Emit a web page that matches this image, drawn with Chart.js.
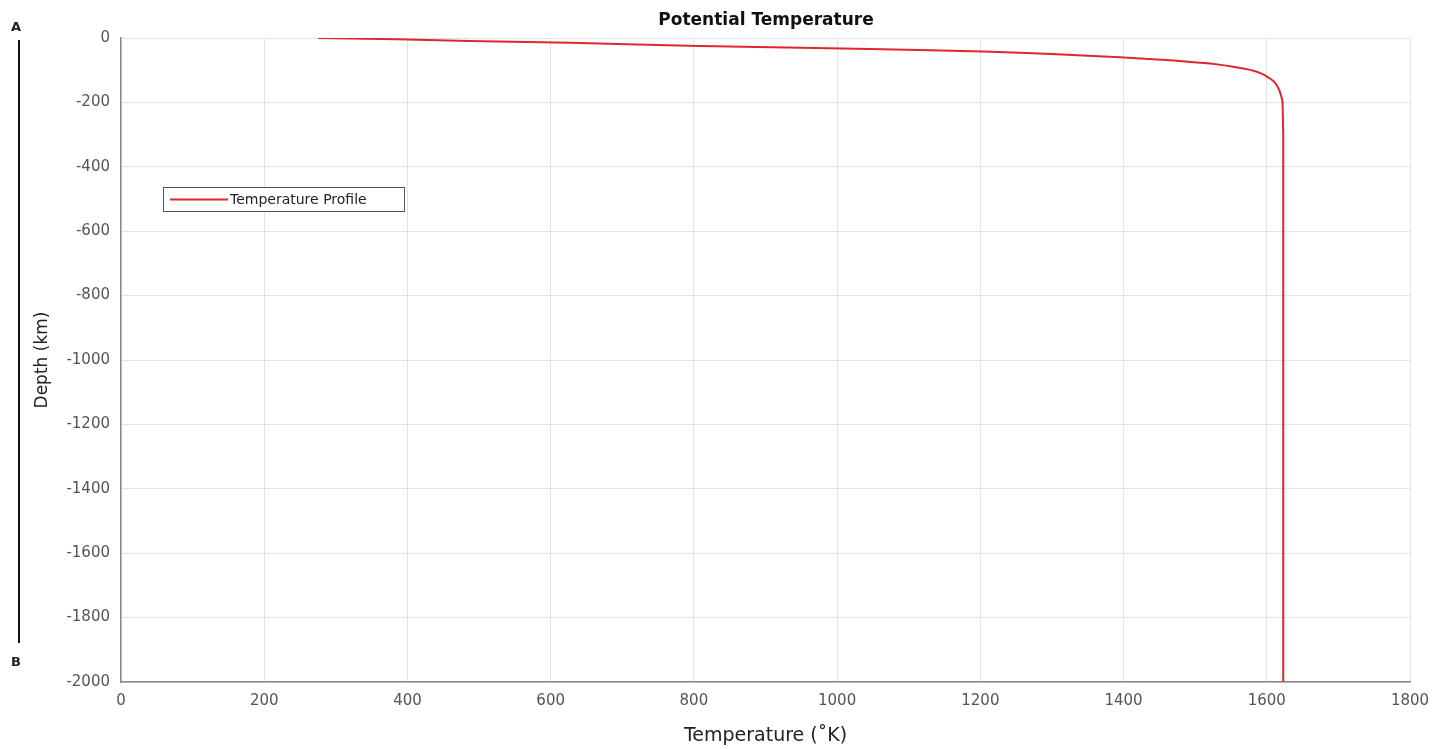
<!DOCTYPE html>
<html>
<head>
<meta charset="utf-8">
<script src="https://cdn.jsdelivr.net/npm/chart.js@4"></script>
<style>
  html, body { margin: 0; padding: 0; background: #fff; }
  #wrap { width: 1450px; height: 749px; position: relative; }
</style>
</head>
<body>
<div id="wrap"><canvas id="tempChart" width="1450" height="749"></canvas></div>
<script>
// profile
const depthKm = [0, -4, -9, -15, -20, -25, -30, -34, -38, -42, -46, -50, -55, -60, -65, -70, -75, -79, -85, -90, -95, -99, -105, -110, -115, -120, -128, -135, -145, -155, -165, -175, -187, -199, -300, -600, -1000, -1500, -2000];
const tempK = [275, 385, 487, 627, 720, 808, 950, 1046, 1130, 1204, 1255, 1300, 1350, 1395, 1435, 1470, 1498, 1521, 1541, 1555, 1567, 1577, 1586, 1592, 1597, 1600, 1606, 1610, 1613.5, 1616, 1618, 1619.5, 1621, 1622, 1623, 1623, 1623, 1623, 1623];
const xTicks = [0, 200, 400, 600, 800, 1000, 1200, 1400, 1600, 1800];
const yTicks = [0, -200, -400, -600, -800, -1000, -1200, -1400, -1600, -1800, -2000];
const seriesLabel = 'Temperature Profile';
const chartTitle = 'Potential Temperature';

const FONT = 'DejaVu Sans';
const RED = '#e0262b';

// title, inset legend and the A-B bar at the left
const extras = {
    id: 'extras',
    afterDraw(chart) {
        const c = chart.ctx;
        c.save();
        // title
        c.fillStyle = '#111';
        c.font = 'bold 17px "' + FONT + '"';
        c.textAlign = 'center';
        c.textBaseline = 'middle';
        c.fillText(chartTitle, 766, 21);

        // legend box
        c.fillStyle = '#fff';
        c.fillRect(163, 187, 242, 24);
        c.strokeStyle = '#555';
        c.lineWidth = 1;
        c.strokeRect(163.5, 187.5, 241, 24);
        c.strokeStyle = RED;
        c.lineWidth = 2;
        c.beginPath();
        c.moveTo(170, 199.5);
        c.lineTo(228, 199.5);
        c.stroke();
        c.fillStyle = '#222';
        c.font = '14px "' + FONT + '"';
        c.textAlign = 'left';
        c.fillText(chart.data.datasets[0].label, 230, 200);

        // A / B marker
        c.fillStyle = '#222';
        c.font = 'bold 13px "' + FONT + '"';
        c.textAlign = 'center';
        c.fillText('A', 16, 28);
        c.fillText('B', 16, 663);
        c.strokeStyle = '#111';
        c.lineWidth = 2;
        c.beginPath();
        c.moveTo(19, 40);
        c.lineTo(19, 643);
        c.stroke();
        c.restore();
    }
};

const plainTick = (v) => String(v);

const ctx = document.getElementById('tempChart').getContext('2d');
const tempChart = new Chart(ctx, {
    type: 'scatter',
    data: {
        datasets: [{
            label: seriesLabel,
            data: tempK.map((t, i) => ({ x: t, y: depthKm[i] })),
            showLine: true,
            borderColor: RED,
            borderWidth: 2,
            pointRadius: 0,
            tension: 0,
            fill: false
        }]
    },
    options: {
        responsive: false,
        animation: false,
        layout: { padding: { top: 38, right: 40, left: 0, bottom: 0 } },
        plugins: {
            legend: { display: false },
            title: { display: false },
            tooltip: { enabled: false }
        },
        scales: {
            x: {
                type: 'linear',
                min: 0,
                max: 1800,
                afterBuildTicks: (axis) => { axis.ticks = xTicks.map(v => ({ value: v })); },
                afterFit: (axis) => { axis.height = 67; },
                grid: { color: '#e3e3e3', drawTicks: false },
                border: { color: '#8a8a8a', width: 1.5 },
                ticks: { color: '#555', padding: 10, font: { family: FONT, size: 15 }, callback: plainTick },
                title: {
                    display: true,
                    text: 'Temperature (˚K)',
                    color: '#222',
                    font: { family: FONT, size: 19 },
                    padding: { top: 0, bottom: 2 }
                }
            },
            y: {
                type: 'linear',
                min: -2000,
                max: 0,
                afterBuildTicks: (axis) => { axis.ticks = yTicks.map(v => ({ value: v })); },
                afterFit: (axis) => { axis.width = 121; },
                grid: { color: '#e3e3e3', drawTicks: false },
                border: { color: '#8a8a8a', width: 1.5 },
                ticks: { color: '#555', padding: 11, font: { family: FONT, size: 15 }, callback: plainTick },
                title: {
                    display: true,
                    text: 'Depth (km)',
                    color: '#222',
                    font: { family: FONT, size: 17 },
                    padding: { top: 32, bottom: 0 }
                }
            }
        }
    },
    plugins: [extras]
});
</script>
</body>
</html>
